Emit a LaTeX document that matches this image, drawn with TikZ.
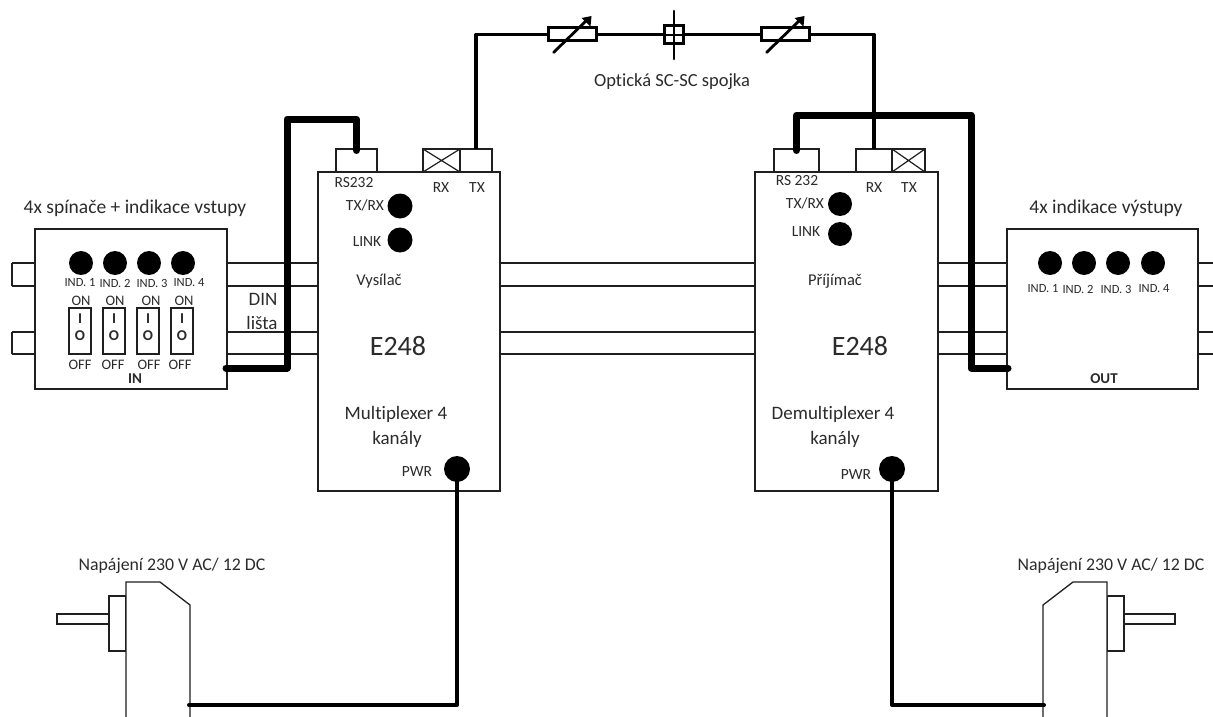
\documentclass[tikz,border=0pt]{standalone}
\usepackage{fontspec}
\setmainfont[Ligatures=NoCommon]{Carlito}
\definecolor{ink}{gray}{0.12}
\definecolor{txt}{gray}{0.17}
\newcommand{\fs}[1]{\fontsize{#1}{#1}\selectfont}
\tikzset{
  box/.style={draw=ink,line width=1.3pt,fill=white,inner sep=0pt,outer sep=0pt},
  rail/.style={draw=ink,line width=1.2pt},
  led/.style={circle,fill=black,inner sep=0pt,outer sep=0pt,minimum size=#1},
  led/.default=24pt,
  lab/.style={text=txt,inner sep=0pt,font=\fs{19.5}},
  sm/.style={text=txt,inner sep=0pt,font=\fs{12.5}},
  sw/.style={text=txt,inner sep=0pt,font=\fs{14.5}},
  swb/.style={text=txt,inner sep=0pt,font=\bfseries\fs{15}},
  port/.style={text=txt,inner sep=0pt,font=\fs{15.5}},
  mid/.style={text=txt,inner sep=0pt,font=\fs{16.5}},
  din/.style={text=txt,inner sep=0pt,font=\fs{19}},
  big/.style={text=txt,inner sep=0pt,font=\fs{19}},
  huge2/.style={text=txt,inner sep=0pt,font=\fs{28}},
  thick1/.style={draw=black,line width=7pt,line cap=round,line join=round},
  fiber/.style={draw=black,line width=3.2pt,line join=round},
  power/.style={draw=black,line width=4pt,line cap=round,line join=round},
  swbox/.style={box,minimum width=22pt,minimum height=46pt},
  atten/.style={box,draw=black,line width=3pt,minimum width=48pt,minimum height=13pt},
  plug/.style={draw=ink,line width=1.3pt,fill=white},
}
\begin{document}
\begin{tikzpicture}[x=1pt,y=-1pt]
\useasboundingbox (0,0) rectangle (1213,717);
% DIN rails
\foreach \ya in {263,286,332,354}{
  \draw[rail] (12,\ya) -- (1213,\ya);
}
\draw[rail] (12,263) -- (12,286) (12,332) -- (12,354);
\node[box,minimum width=192pt,minimum height=160pt] (lbox) at (131,309) {};
\node[box,minimum width=191pt,minimum height=160pt] (rbox) at (1102.5,309) {};
\node[box,minimum width=182pt,minimum height=319pt] (mux) at (409,331.5) {};
\node[box,minimum width=183pt,minimum height=319pt] (demux) at (846.5,331.5) {};
% Ports
\node[box,minimum width=41pt,minimum height=23pt] (p1) at (356.5,160.5) {};
\node[box,minimum width=37pt,minimum height=23pt] (xl) at (441.5,160.5) {};
\draw[ink,line width=1.2pt] (xl.north west) -- (xl.south east) (xl.south west) -- (xl.north east);
\node[box,minimum width=32pt,minimum height=23pt] (txl) at (476,160.5) {};
\node[box,minimum width=45pt,minimum height=23pt] (p2) at (796.5,160.5) {};
\node[box,minimum width=36pt,minimum height=23pt] (rxr) at (874,160.5) {};
\node[box,minimum width=33pt,minimum height=23pt] (xr) at (908.5,160.5) {};
\draw[ink,line width=1.2pt] (xr.north west) -- (xr.south east) (xr.south west) -- (xr.north east);
% Fibre
\coordinate (f1) at (476,34.5);
\node[atten] (a1) at (572.5,34.5) {};
\node[atten] (a2) at (785.5,34.5) {};
\draw[fiber] (txl.north) -- (txl.north |- f1) -- (a1.west);
\draw[fiber] (a1.east) -- (a2.west);
\draw[fiber] (a2.east) -- (rxr.north |- f1) -- (rxr.north);
\node[box,draw=black,line width=3pt,minimum width=19pt,minimum height=18pt] (cpl) at (674,35) {};
\draw[black,line width=2.6pt,line cap=round] (674,11) -- (674,59);
\draw[black,line width=2.4pt] (cpl.west) -- (cpl.east);
\foreach \n in {a1,a2}{
  \draw[black,line width=2.8pt,line cap=round] ([xshift=-19pt,yshift=-18pt]\n.center) -- ([xshift=15pt,yshift=15pt]\n.center);
  \fill[black] ([xshift=19pt,yshift=18.5pt]\n.center) -- ([xshift=9pt,yshift=16.5pt]\n.center) -- ([xshift=18pt,yshift=8pt]\n.center) -- cycle;
}
% Left module content
\foreach \i/\xa/\xb/\xc/\xd/\xe in {1/81/80/81/80/80,2/115/115/115/113/114,3/149/152/151/149/148,4/183/189/184/180/182}{
  \node[led] (la\i) at (\xa,263) {};
  \node[sm] (li\i) at (\xb,283) {IND. \i};
  \node[sw] (lon\i) at (\xc,301) {ON};
  \node[sw] (loff\i) at (\xd,365) {OFF};
  \node[swbox] (sw\i) at (\xe,331) {};
  \node[swb] (swi\i) at (\xe,319) {I};
  \node[swb] (swo\i) at (\xe,336) {O};
}
\node[swb] (inl) at (135,379) {IN};
\node[lab] (t1) at (135,208) {4x spínače + indikace vstupy};
\node[din] (din) at (263,299) {DIN};
\node[din] (lista) at (262,323) {lišta};
% Right module content
\foreach \i/\xa/\xb in {1/1050/1043,2/1084/1078,3/1118/1116,4/1153/1154}{
  \node[led] (ra\i) at (\xa,263) {};
  \node[sm] (ri\i) at (\xb,289) {IND. \i};
}
\node[swb] (outl) at (1104,379) {OUT};
\node[lab] (t2) at (1106,208) {4x indikace výstupy};
% Mux text
\node[port] (m1) at (354,183) {RS232};
\node[port] (m2) at (441,188) {RX};
\node[port] (m3) at (477,188) {TX};
\node[port] (m4) at (365,205) {TX/RX};
\node[led=25pt] (lm1) at (400,206) {};
\node[port] (m5) at (367,242) {LINK};
\node[led=25pt] (lm2) at (400,240) {};
\node[mid] (m6) at (379,281) {Vysílač};
\node[huge2] (m7) at (398,346) {E248};
\node[big] (m8) at (396,414) {Multiplexer 4};
\node[big] (m9) at (397,439) {kanály};
\node[port] (m10) at (417,472) {PWR};
\node[led=26pt] (pw1) at (457,469) {};
% Demux text
\node[port] (d1) at (797,181) {RS 232};
\node[port] (d2) at (874,188) {RX};
\node[port] (d3) at (909,188) {TX};
\node[port] (d4) at (805,203) {TX/RX};
\node[led=24pt] (lm3) at (840,204) {};
\node[port] (d5) at (806,232) {LINK};
\node[led=24pt] (lm4) at (840,234) {};
\node[mid] (d6) at (835,281) {Příjímač};
\node[huge2] (d7) at (860,346) {E248};
\node[big] (d8) at (833,414) {Demultiplexer 4};
\node[big] (d9) at (835,439) {kanály};
\node[port] (d10) at (856,475) {PWR};
\node[led=26pt] (pw2) at (892,469) {};
\node[lab,font=\fs{18.5}] (opt) at (672,82) {Optická SC-SC spojka};
% Thick serial links
\coordinate (s1) at (226,368);
\coordinate (s2) at (287,119);
\coordinate (s3) at (1008,368);
\coordinate (s4) at (971,115);
\draw[thick1] (s1) -- (s1 -| s2) -- (s2) -- (s2 -| p1.center) -- ([yshift=10pt]p1.center);
\draw[thick1] (s3) -- (s3 -| s4) -- (s4) -- (s4 -| p2.center) -- ([yshift=10pt]p2.center);
% Power plugs
\draw[plug] (57,614) rectangle (109,624);
\draw[plug] (109,596) rectangle (126,651);
\draw[plug] (126,717) -- (126,582) -- (160,582) -- (190,605) -- (190,717);
\draw[plug] (1175,614) rectangle (1124,624);
\draw[plug] (1124,596) rectangle (1107,651);
\draw[plug] (1107,717) -- (1107,582) -- (1073,582) -- (1043,605) -- (1043,717);
\node[lab,font=\fs{17.8}] (pl1) at (172,566) {Napájení 230 V AC/ 12 DC};
\node[lab,font=\fs{17.8}] (pl2) at (1111,566) {Napájení 230 V AC/ 12 DC};
% Power lines
\coordinate (w1) at (189,705);
\coordinate (w2) at (1044,705);
\draw[power] (pw1.center) -- (pw1.center |- w1) -- (w1);
\draw[power] (pw2.center) -- (pw2.center |- w2) -- (w2);
\end{tikzpicture}
\end{document}
